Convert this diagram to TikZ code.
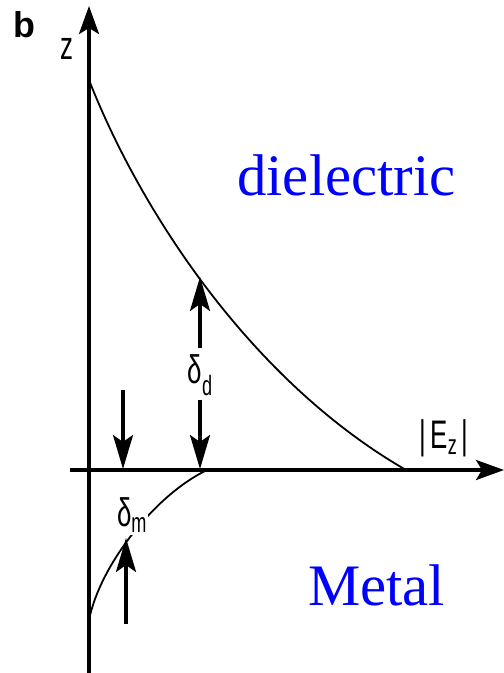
\documentclass[tikz,border=0pt]{standalone}
\usepackage{fontspec}
\setmainfont{Liberation Serif}
\setsansfont{Liberation Sans}
\usetikzlibrary{arrows.meta,positioning}
\definecolor{mediumblue}{RGB}{0,0,255}

\begin{document}
\begin{tikzpicture}[x=1bp,y=-1bp,
axis/.style={line width=3.5bp, -{Stealth[length=28bp,width=20bp,inset=6bp]}},
field/.style={line width=1.8bp},
depth/.style={line width=3.2bp, -{Stealth[length=34bp,width=20bp,inset=7bp]}},
sflabel/.style={font=\sffamily\fontsize{40}{40}\selectfont, xscale=0.65, inner sep=0pt},
medium/.style={font=\fontsize{59}{60}\selectfont, text=mediumblue, inner sep=0pt, anchor=base west}
]
\useasboundingbox (0,0) rectangle (504,673);

\coordinate (zbot) at (89,673);
\coordinate (ztop) at (89,6);
\coordinate (eleft) at (70,470);
\coordinate (eright) at (504,470);

\draw[axis] (zbot) -- (ztop);
\draw[axis] (eleft) -- (eright);

% field profiles
\coordinate (d0) at (89,80);
\coordinate (d1) at (406,470);
\coordinate (m0) at (89,620);
\coordinate (m1) at (207,470);
\draw[field] (d0) .. controls (140,210) and (250,380) .. (d1);
\draw[field] (m0) .. controls (100,565) and (155,495) .. (m1);

\node[font=\sffamily\bfseries\fontsize{36}{36}\selectfont, inner sep=0pt] (panel) at (24,25) {b};
\node[sflabel] (zlabel) at (67,49) {z};
\node[sflabel] (ezlabel) at (444,438) {|\,E\textsubscript{z}\,|};

\node[sflabel] (dd) at (200,375) {δ\textsubscript{d}};
\node[sflabel, fill=white, inner sep=2pt] (dm) at (132,515) {δ\textsubscript{m}};

\coordinate (ddtop) at (200,277);
\coordinate (ddbot) at (200,469);
\draw[depth, shorten <=6bp] (dd.north) -- (ddtop);
\draw[depth, shorten <=4bp] (dd.south) -- (ddbot);

\coordinate (lt) at (123,390);
\coordinate (lb) at (123,469);
\draw[depth] (lt) -- (lb);

\coordinate (mb) at (126,624);
\coordinate (mt) at (126,538);
\draw[depth] (mb) -- (mt);

\node[medium] (diel) at (237,195) {dielectric};
\node[medium] (metal) at (308,605) {Metal};
\end{tikzpicture}
\end{document}
